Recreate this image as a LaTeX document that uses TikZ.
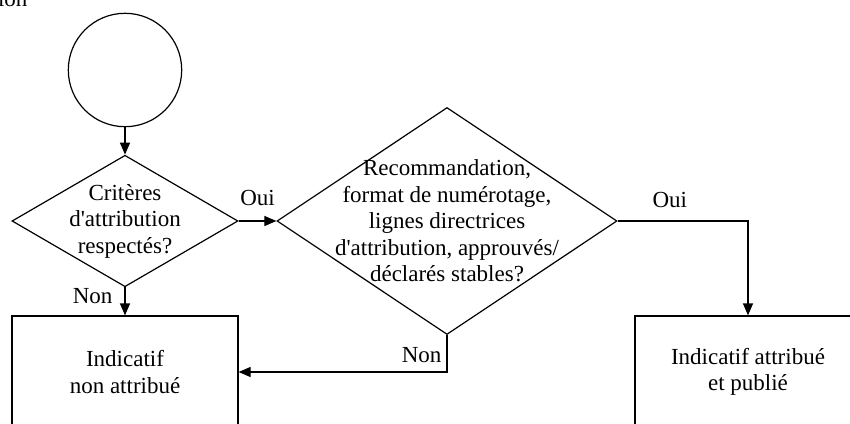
\documentclass[tikz,border=0pt]{standalone}
\usepackage{fontspec}
\setmainfont{Liberation Serif}[Ligatures=TeXOff]
\usetikzlibrary{arrows.meta, shapes.geometric}

\begin{document}
\begin{tikzpicture}[x=1pt,y=-1pt,line width=1.2pt,
    font=\fontsize{23}{26.5}\selectfont,
    decision/.style={draw,shape=diamond,inner sep=0pt},
    outcome/.style={draw,rectangle,minimum width=226,minimum height=112,align=center},
    flow/.style={draw,-{Triangle[length=12pt,width=10pt]}},
    answer/.style={inner sep=0pt}]
  %\draw (0, 0) grid (850, 423);
  \useasboundingbox (0,0) rectangle (850,423);

  \node[answer,anchor=base east] (head) at (28,6) {ion};

  \node[draw,circle,minimum size=113.4,inner sep=0pt] (start) at (125,70) {};
  \node[decision,minimum width=226,minimum height=131.5,
        label={[align=center]center:Critères\\d'attribution\\respectés?}] (crit) at (125,221) {};
  \node[decision,minimum width=340,minimum height=227,
        label={[align=center]center:Recommandation,\\format de numérotage,\\lignes directrices\\d'attribution, approuvés/\\déclarés stables?}] (dec) at (447,221) {};
  \node[outcome] (nonattr) at (125,372) {Indicatif\\non attribué};
  \node[outcome] (attr) at (748,372) {Indicatif attribué\\et publié};

  \draw[flow] (start) -- (crit);
  \draw[flow] (crit) -- node[answer,above=15pt] {Oui} (dec);
  \draw[flow] (crit) -- node[answer,anchor=base east,pos=0.59,xshift=-12pt] {Non} (nonattr);

  % decision on the Recommandation
  \draw[flow] (dec.east) -| node[answer,above=13pt,pos=0.2] {Oui} (attr);
  \draw[flow] (dec.south) |- node[answer,anchor=base east,pos=0.37,xshift=-5pt] {Non} (nonattr.east);

\end{tikzpicture}
\end{document}
